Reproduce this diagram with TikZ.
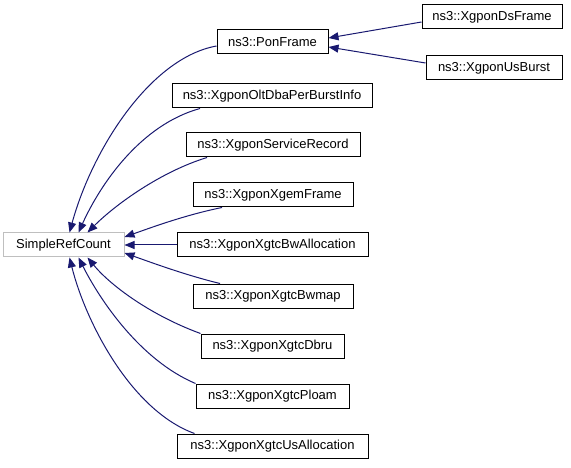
\documentclass[tikz,border=0pt]{standalone}
\usepackage{fontspec}
\setmainfont{Liberation Sans}
\usetikzlibrary{arrows.meta}
\definecolor{edgeblue}{RGB}{25,25,112}
\definecolor{grayborder}{RGB}{191,191,191}
\tikzset{
  cls/.style={draw=black, line width=1pt, fill=white, minimum height=24pt, inner sep=0pt,
    font=\fontsize{13}{15}\selectfont, text=black},
  root/.style={cls, draw=grayborder},
  inh/.style={draw=edgeblue, line width=1pt, -{Triangle[length=10pt,width=8pt]}, fill=none},
}
\begin{document}
\begin{tikzpicture}[x=1pt,y=-1pt]
\useasboundingbox (0,0) rectangle (571,468);
\node[root, minimum width=121pt] (src) at (63.5,245) {SimpleRefCount};
\node[cls, minimum width=111pt] (pon) at (272.5,42) {ns3::PonFrame};
\node[cls, minimum width=140pt] (ds) at (492,17) {ns3::XgponDsFrame};
\node[cls, minimum width=136pt] (us) at (494,68) {ns3::XgponUsBurst};
\node[cls, minimum width=200pt] (olt) at (272,96) {ns3::XgponOltDbaPerBurstInfo};
\node[cls, minimum width=174pt] (sr) at (273,145) {ns3::XgponServiceRecord};
\node[cls, minimum width=160pt] (xgem) at (273,195) {ns3::XgponXgemFrame};
\node[cls, minimum width=191pt] (bwa) at (272.5,245) {ns3::XgponXgtcBwAllocation};
\node[cls, minimum width=160pt] (bwm) at (273,296) {ns3::XgponXgtcBwmap};
\node[cls, minimum width=143pt] (dbru) at (272.5,346) {ns3::XgponXgtcDbru};
\node[cls, minimum width=153pt] (ploam) at (272.5,396) {ns3::XgponXgtcPloam};
\node[cls, minimum width=191pt] (usa) at (272.5,446) {ns3::XgponXgtcUsAllocation};

% PonFrame children
\draw[inh] ([yshift=-5pt]ds.west) -- ([yshift=4pt]pon.east);
\draw[inh] ([yshift=5pt]us.west) -- ([yshift=-5pt]pon.east);

% SimpleRefCount children
\draw[inh] ([yshift=-4pt]pon.west) .. controls (150,58) and (92,150) .. ([xshift=6pt]src.north);
\draw[inh] ([xshift=-72pt]olt.south) .. controls (140,125) and (100,185) .. ([xshift=15pt]src.north);
\draw[inh] ([xshift=-66pt]sr.south) .. controls (160,172) and (115,205) .. ([xshift=24pt]src.north);
\draw[inh] ([xshift=-51pt]xgem.south) .. controls (185,215) and (150,228) .. ([yshift=8pt]src.east);
\draw[inh] (bwa.west) -- (src.east);
\draw[inh] ([xshift=-53pt]bwm.north) .. controls (185,275) and (150,262) .. ([yshift=-8pt]src.east);
\draw[inh] (dbru.north west) .. controls (150,315) and (110,285) .. ([xshift=24pt]src.south);
\draw[inh] (ploam.north west) .. controls (140,360) and (100,300) .. ([xshift=15pt]src.south);
\draw[inh] ([xshift=-78pt]usa.north) .. controls (130,410) and (85,320) .. ([xshift=6pt]src.south);
\end{tikzpicture}
\end{document}
